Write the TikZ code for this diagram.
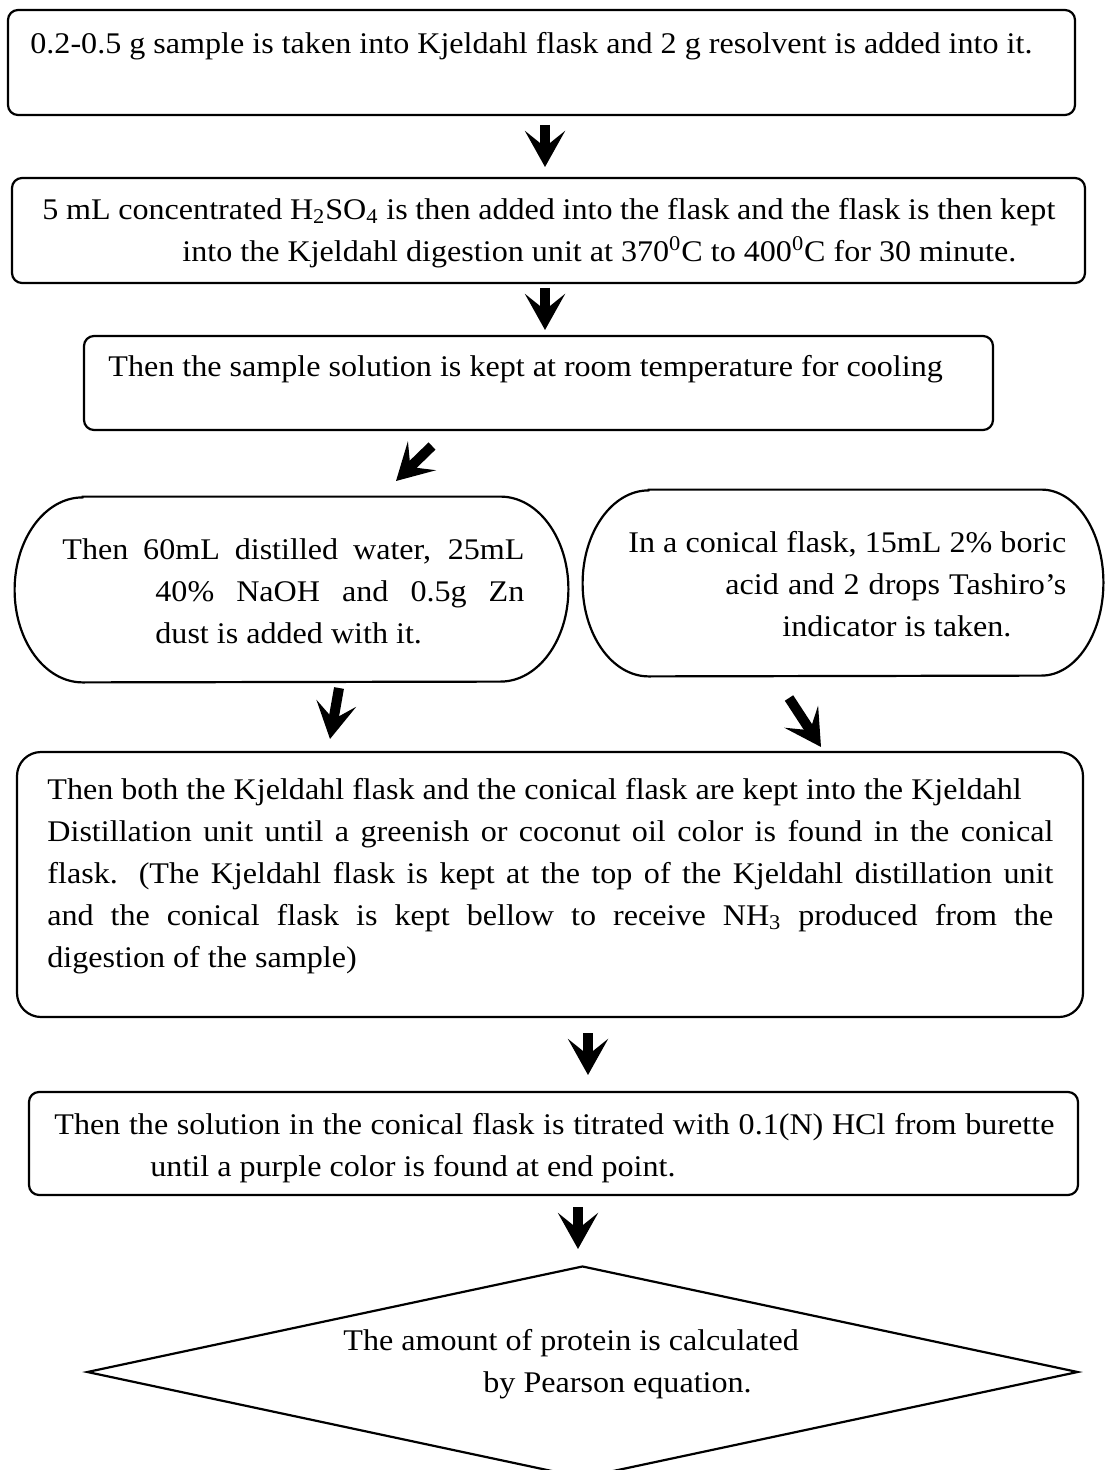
\documentclass[tikz,border=0pt]{standalone}
\usepackage{fontspec}
\setmainfont[FakeStretch=1.07]{Liberation Serif}
\usetikzlibrary{arrows.meta,shapes.geometric}
\newcommand\firstln{\vrule height 12pt depth 0pt width 0pt}
\begin{document}
\begin{tikzpicture}[x=0.5pt,y=-0.5pt,
  box/.style={draw, line width=1.1pt, rounded corners=5pt, inner sep=0pt},
  frame/.style={inner sep=0pt},
  edge/.style={line width=1.1pt},
  decision/.style={draw, line width=1.1pt, diamond, inner sep=0pt},
  txt/.style={anchor=north west, inner sep=0pt, align=left, font=\fontsize{15}{21}\selectfont},
  arr/.style={line width=5pt, -{Stealth[length=18pt,width=20pt,inset=8pt]}}
]
\useasboundingbox (0,0) rectangle (1104,1470);
% shapes
\node[box, minimum width=533.5pt, minimum height=52.5pt] (b1) at (541.5,62.5) {};
\node[box, minimum width=536.5pt, minimum height=52.5pt] (b2) at (548.5,230.5) {};
\node[box, minimum width=454.5pt, minimum height=47pt] (b3) at (538.5,383) {};
\node[frame, minimum width=276.5pt, minimum height=92.5pt] (e1) at (291.5,589.5) {};
\draw[edge] ([xshift=34pt]e1.north west) -- ([xshift=-34pt]e1.north east)
  arc[start angle=90, end angle=-90, x radius=34pt, y radius=46.25pt]
  -- ([xshift=34pt]e1.south west)
  arc[start angle=270, end angle=90, x radius=34pt, y radius=46.25pt] -- cycle;
\node[frame, minimum width=260pt, minimum height=93pt] (e2) at (843,583) {};
\draw[edge] ([xshift=33pt]e2.north west) -- ([xshift=-31pt]e2.north east)
  arc[start angle=90, end angle=-90, x radius=31pt, y radius=46.5pt]
  -- ([xshift=33pt]e2.south west)
  arc[start angle=270, end angle=90, x radius=33pt, y radius=46.5pt] -- cycle;
\node[box, rounded corners=12pt, minimum width=533pt, minimum height=132.5pt] (b4) at (550,884.5) {};
\node[box, minimum width=524.5pt, minimum height=51.5pt] (b5) at (553.5,1143.5) {};
\node[decision, minimum width=495.5pt, minimum height=106pt] (d) at (582.5,1372) {};
% texts
\node[txt] (t1) at (30,29) {\firstln 0.2-0.5 g sample is taken into Kjeldahl flask and 2 g resolvent is added into it.};
\node[txt] (t2) at (42,195) {\firstln\makebox[506.5pt][s]{5 mL concentrated H\textsubscript{2}SO\textsubscript{4} is then added into the flask and the flask is then kept}\\
  \hspace*{70pt}into the Kjeldahl digestion unit at 370\textsuperscript{0}C to 400\textsuperscript{0}C for 30 minute.};
\node[txt] (t3) at (108,352) {\firstln Then the sample solution is kept at room temperature for cooling};
\node[txt] (te1) at (62,535) {\firstln\makebox[231pt][s]{Then 60mL distilled water, 25mL}\\
  \hspace*{46.5pt}\makebox[184.5pt][s]{40\% NaOH and 0.5g Zn}\\
  \hspace*{46.5pt}dust is added with it.};
\node[txt] (te2) at (628,528) {\firstln\makebox[219pt][s]{In a conical flask, 15mL 2\% boric}\\
  \hspace*{48.5pt}\makebox[170.5pt][s]{acid and 2 drops Tashiro’s}\\
  \hspace*{77pt}indicator is taken.};
\node[txt] (t4) at (47,775) {\firstln Then both the Kjeldahl flask and the conical flask are kept into the Kjeldahl\\
  \makebox[503pt][s]{Distillation unit until a greenish or coconut oil color is found in the conical}\\
  \makebox[503pt][s]{flask. (The Kjeldahl flask is kept at the top of the Kjeldahl distillation unit}\\
  \makebox[503pt][s]{and the conical flask is kept bellow to receive NH\textsubscript{3} produced from the}\\
  digestion of the sample)};
\node[txt] (t5) at (54,1110) {\firstln\makebox[500pt][s]{Then the solution in the conical flask is titrated with 0.1(N) HCl from burette}\\
  \hspace*{48pt}until a purple color is found at end point.};
\node[txt] (t6) at (343,1326) {\firstln The amount of protein is calculated\\
  \hspace*{70pt}by Pearson equation.};
% arrows
\coordinate (a1s) at (545,125);  \coordinate (a1e) at (545,167);
\coordinate (a2s) at (545,288);  \coordinate (a2e) at (545,330);
\coordinate (a3s) at (432,446);  \coordinate (a3e) at (396,481);
\coordinate (a4s) at (339,688);  \coordinate (a4e) at (330,739);
\coordinate (a5s) at (789,698);  \coordinate (a5e) at (821,747);
\coordinate (a6s) at (588,1033); \coordinate (a6e) at (588,1075);
\coordinate (a7s) at (578,1207); \coordinate (a7e) at (578,1249);
\draw[arr] (a1s) -- (a1e);
\draw[arr] (a2s) -- (a2e);
\draw[arr] (a3s) -- (a3e);
\draw[arr] (a4s) -- (a4e);
\draw[arr] (a5s) -- (a5e);
\draw[arr] (a6s) -- (a6e);
\draw[arr] (a7s) -- (a7e);
\end{tikzpicture}
\end{document}
